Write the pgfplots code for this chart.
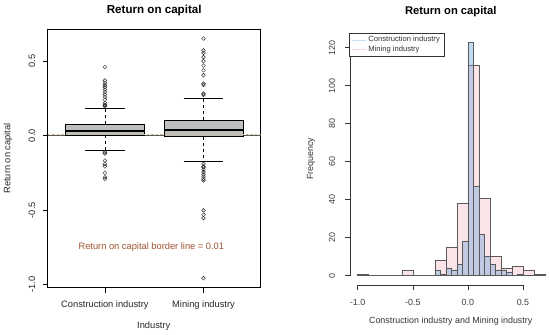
\documentclass[border=0pt]{standalone}
\usepackage{fontspec}
\setmainfont{Liberation Sans}
\usepackage{pgfplots}
\pgfplotsset{compat=1.18}
\definecolor{boxgray}{gray}{0.745}
\definecolor{borderline}{RGB}{205,185,145}
\definecolor{bordertext}{RGB}{160,82,45}
\definecolor{minepink}{RGB}{250,228,232}
\definecolor{conblue}{RGB}{110,166,222}
\definecolor{barline}{RGB}{90,90,90}
\definecolor{legblue}{RGB}{200,222,245}
\definecolor{legpink}{RGB}{248,215,225}
\begin{document}
\begin{tikzpicture}
\path[use as bounding box] (0pt,0pt) rectangle (550pt,335pt);
% ---------------- Left: boxplot ----------------
\begin{axis}[
  at={(47.7pt,47.3pt)}, anchor=south west, scale only axis,
  width=213pt, height=258.7pt,
  xmin=0.42, xmax=2.58, ymin=-1.021, ymax=0.716,
  xtick={1,2}, xticklabels={Construction industry,Mining industry},
  ytick={-1,-0.5,0,0.5}, yticklabels={-1.0,-0.5,0.0,0.5},
  xtick pos=left, ytick pos=left, tick align=outside, major tick length=5pt,
  tick style={black, line width=0.5pt},
  axis line style={black, line width=0.5pt},
  tick label style={font=\fontsize{9.3}{11}\selectfont, text=black!85},
  yticklabel style={rotate=90, anchor=south, inner xsep=2pt, inner ysep=7.3pt},
  xticklabel style={anchor=north, inner xsep=2pt, inner ysep=8pt},
  title={Return on capital},
  title style={font=\bfseries\fontsize{11.6}{13}\selectfont, at={(axis description cs:0.5,1.050)}, anchor=center},
  xlabel={Industry},
  xlabel style={font=\fontsize{9.3}{11}\selectfont, text=black!85, at={(axis description cs:0.498,-0.148)}, anchor=center},
  ylabel={Return on capital},
  ylabel style={font=\fontsize{9.3}{11}\selectfont, text=black!85, at={(axis description cs:-0.186,0.5)}, anchor=center, rotate=0},
]
\addplot[gray!70!black, line width=0.6pt] coordinates {(0.42,0) (2.58,0)};
% whiskers (dashed)
\addplot[black, dashed, line width=0.5pt] coordinates {(1,0.076) (1,0.182)};
\addplot[black, dashed, line width=0.5pt] coordinates {(1,0.003) (1,-0.101)};
\addplot[black, dashed, line width=0.5pt] coordinates {(2,0.103) (2,0.253)};
\addplot[black, dashed, line width=0.5pt] coordinates {(2,-0.007) (2,-0.173)};
% boxes
\addplot[draw=black, fill=boxgray, line width=0.5pt] coordinates {(0.6,0.003) (1.4,0.003) (1.4,0.076) (0.6,0.076)} -- cycle;
\addplot[draw=black, fill=boxgray, line width=0.5pt] coordinates {(1.6,-0.007) (2.4,-0.007) (2.4,0.103) (1.6,0.103)} -- cycle;
% medians
\addplot[black, line width=1.9pt] coordinates {(0.6,0.029) (1.4,0.029)};
\addplot[black, line width=1.9pt] coordinates {(1.6,0.038) (2.4,0.038)};
% whisker caps
\addplot[black, line width=0.5pt] coordinates {(0.8,0.182) (1.2,0.182)};
\addplot[black, line width=0.5pt] coordinates {(0.8,-0.101) (1.2,-0.101)};
\addplot[black, line width=0.5pt] coordinates {(1.8,0.253) (2.2,0.253)};
\addplot[black, line width=0.5pt] coordinates {(1.8,-0.173) (2.2,-0.173)};
% outliers
\addplot[only marks, mark=o, mark size=1.9pt, mark options={black!85, line width=0.45pt}] coordinates {
 (1,0.46) (1,0.37) (1,0.354) (1,0.338) (1,0.325) (1,0.309) (1,0.294) (1,0.276) (1,0.26)
 (1,0.242) (1,0.22) (1,0.208) (1,0.197) (1,0.204)
 (1,-0.112) (1,-0.12) (1,-0.168) (1,-0.19) (1,-0.206) (1,-0.25) (1,-0.28) (1,-0.29)
 (2,0.652) (2,0.572) (2,0.556) (2,0.527) (2,0.5) (2,0.471) (2,0.439) (2,0.406)
 (2,0.35) (2,0.341) (2,0.282) (2,0.274)
 (2,-0.19) (2,-0.206) (2,-0.213) (2,-0.229) (2,-0.245) (2,-0.262) (2,-0.276) (2,-0.29) (2,-0.3)
 (2,-0.502) (2,-0.531) (2,-0.554) (2,-0.957)};
% border line
\addplot[borderline, line width=1.1pt, dash pattern=on 2.5pt off 2pt] coordinates {(0.42,0.01) (2.58,0.01)};
\node[text=bordertext, font=\fontsize{9.3}{11}\selectfont] at (axis cs:1.471,-0.751) {Return on capital border line = 0.01};
\end{axis}
% ---------------- Right: histogram ----------------
\begin{axis}[
  at={(350.2pt,50pt)}, anchor=south west, scale only axis,
  width=202.3pt, height=252.3pt,
  xmin=-1.068, xmax=0.768, ymin=-4.92, ymax=127.92,
  xtick={-1,-0.5,0,0.5}, xticklabels={-1.0,-0.5,0.0,0.5},
  ytick={0,20,40,60,80,100,120}, yticklabels={0,20,40,60,80,100,120},
  xtick pos=left, ytick pos=left, tick align=outside, major tick length=5pt,
  tick style={black!80, line width=0.5pt},
  axis line style={draw=none},
  clip=false,
  tick label style={font=\fontsize{8.9}{10.5}\selectfont, text=black!75},
  yticklabel style={rotate=90, anchor=south, inner xsep=2pt, inner ysep=9.8pt},
  xticklabel style={anchor=north, inner xsep=2pt, inner ysep=9pt},
  title={Return on capital},
  title style={font=\bfseries\fontsize{11.2}{13}\selectfont, at={(axis description cs:0.497,1.059)}, anchor=center},
  xlabel={Construction industry and Mining industry},
  xlabel style={font=\fontsize{8.9}{10.5}\selectfont, text=black!80, at={(axis description cs:0.497,-0.145)}, anchor=center},
  ylabel={Frequency},
  ylabel style={font=\fontsize{8.9}{10.5}\selectfont, text=black!80, at={(axis description cs:-0.194,0.5)}, anchor=center, rotate=0},
  legend style={at={(axis description cs:-0.004,1.0)}, anchor=north west, draw=black!80, line width=0.5pt,
     font=\fontsize{7.6}{8.3}\selectfont, text=black!80, inner xsep=2pt, inner ysep=1.5pt, row sep=-1.5pt},
  legend cell align=left,
  legend image code/.code={\draw[#1] (0pt,0pt) -- (14pt,0pt);},
]
\draw[black!80, line width=0.5pt] (axis cs:-1,-4.92) -- (axis cs:0.5,-4.92);
\draw[black!80, line width=0.5pt] (axis cs:-1.068,0) -- (axis cs:-1.068,120);
% Mining industry (bin width 0.1)
\addplot[ybar interval, fill=minepink, draw=barline, line width=0.5pt, forget plot] coordinates {
 (-1.0,1) (-0.9,0) (-0.8,0) (-0.7,0) (-0.6,3) (-0.5,0) (-0.4,0) (-0.3,8) (-0.2,15)
 (-0.1,38) (0.0,111) (0.1,41) (0.2,10) (0.3,4) (0.4,5) (0.5,3) (0.6,1) (0.7,1)};
% Construction industry (bin width 0.05)
\addplot[ybar interval, fill=conblue, fill opacity=0.42, draw=barline, line width=0.5pt, forget plot] coordinates {
 (-0.30,3) (-0.25,1) (-0.20,4) (-0.15,3) (-0.10,6) (-0.05,18) (0.00,123) (0.05,47)
 (0.10,22) (0.15,10) (0.20,6) (0.25,3) (0.30,3) (0.35,2) (0.40,0) (0.45,1) (0.50,1)};
\addlegendimage{legblue, line width=0.8pt}
\addlegendentry{Construction industry}
\addlegendimage{legpink, line width=0.8pt}
\addlegendentry{Mining industry}
\end{axis}
\end{tikzpicture}
\end{document}
